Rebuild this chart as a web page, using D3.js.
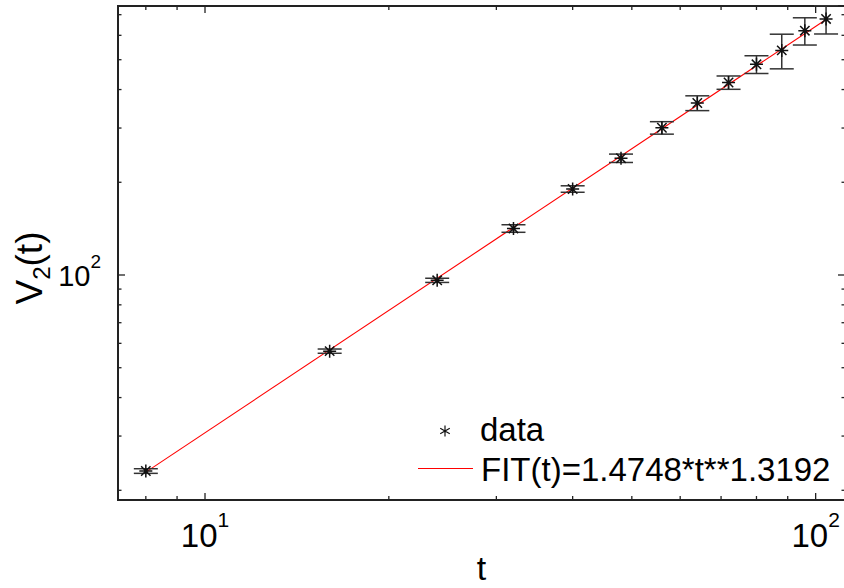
<!DOCTYPE html>
<html lang="en">
<head>
<meta charset="UTF-8">
<title>V2(t) fit</title>
<style>
  body { margin: 0; background: #fff; }
  svg text { font-family: "Liberation Sans", Arial, sans-serif; fill: #000; }
</style>
</head>
<body>
<div id="chart"></div>
<script src="https://cdn.jsdelivr.net/npm/d3@7/dist/d3.min.js"></script>
<script>
  // data
  const T = [8, 16, 24, 32, 40, 48, 56, 64, 72, 80, 88, 96, 104];
  const V2 = [23.1, 56.6, 96.1, 141.6, 190.2, 239.4, 300.6, 361.7, 421.7, 483, 536, 621, 678];
  const ERR = [0.4, 0.9, 1.5, 4.0, 4.6, 7.5, 14, 20, 21, 32, 69, 63, 72];

  // fit from the legend
  const FIT_A = 1.4748, FIT_B = 1.3192;

  const X_MAJOR = [10, 100], X_MAJOR_EXP = ["1", "2"];
  const Y_MAJOR = [100], Y_MAJOR_EXP = ["2"];
  const X_MINOR = [8, 9, 20, 30, 40, 50, 60, 70, 80, 90];
  const Y_MINOR = [20, 30, 40, 50, 60, 70, 80, 90, 200, 300, 400, 500, 600, 700];

  const W = 844, H = 588;
  const margin = {top: 6, right: -1, bottom: 88, left: 118};
  const width = W - margin.left - margin.right,
    height = H - margin.top - margin.bottom;

  const svg = d3.select("#chart").append("svg")
    .attr("width", W).attr("height", H);
  const g = svg.append("g")
    .attr("transform", "translate(" + margin.left + "," + margin.top + ")");

  const x = d3.scaleLog().domain([7.203, 111.7]).range([0, width]);
  const y = d3.scaleLog().domain([18.6, 747]).range([height, 0]);

  const axisColor = "#222";

  // ticks on all four sides, pointing inward
  function ticks(vals, len) {
    vals.forEach(function (v) {
      const px = x(v);
      g.append("line").attr("x1", px).attr("x2", px).attr("y1", height).attr("y2", height - len)
        .attr("stroke", axisColor).attr("stroke-width", 1.3);
      g.append("line").attr("x1", px).attr("x2", px).attr("y1", 0).attr("y2", len)
        .attr("stroke", axisColor).attr("stroke-width", 1.3);
    });
  }
  function yticks(vals, len) {
    vals.forEach(function (v) {
      const py = y(v);
      g.append("line").attr("x1", 0).attr("x2", len).attr("y1", py).attr("y2", py)
        .attr("stroke", axisColor).attr("stroke-width", 1.3);
      g.append("line").attr("x1", width).attr("x2", width - len).attr("y1", py).attr("y2", py)
        .attr("stroke", axisColor).attr("stroke-width", 1.3);
    });
  }
  ticks(X_MINOR, 4);
  ticks(X_MAJOR, 7);
  yticks(Y_MINOR, 3.5);
  yticks(Y_MAJOR, 7);

  // frame
  g.append("rect").attr("x", 0).attr("y", 0).attr("width", width).attr("height", height)
    .attr("fill", "none").attr("stroke", axisColor).attr("stroke-width", 2);

  // tick labels with superscripts
  X_MAJOR.forEach(function (v, i) {
    const t = g.append("text")
      .attr("x", x(v)).attr("y", height + 47)
      .attr("text-anchor", "middle").style("font-size", "33px");
    t.append("tspan").text("10");
    t.append("tspan").attr("dy", -20).style("font-size", "21px").text(X_MAJOR_EXP[i]);
  });
  Y_MAJOR.forEach(function (v, i) {
    const t = g.append("text")
      .attr("x", -17).attr("y", y(v) + 11)
      .attr("text-anchor", "end").style("font-size", "29px");
    t.append("tspan").text("10");
    t.append("tspan").attr("dy", -18).style("font-size", "19px").text(Y_MAJOR_EXP[i]);
  });

  // axis titles
  g.append("text")
    .attr("x", x(Math.sqrt(x.domain()[0] * x.domain()[1]))).attr("y", height + 80)
    .attr("text-anchor", "middle").style("font-size", "34px").text("t");

  const yl = svg.append("text")
    .attr("transform", "translate(42," + 268 + ") rotate(-90)")
    .attr("text-anchor", "middle").style("font-size", "37px");
  yl.append("tspan").text("V");
  yl.append("tspan").attr("dy", 8).style("font-size", "24px").text("2");
  yl.append("tspan").attr("dy", -8).text("(t)");

  // clip for marks
  svg.append("clipPath").attr("id", "clip").append("rect")
    .attr("x", 0).attr("y", -1).attr("width", width).attr("height", height + 1);
  const plot = g.append("g").attr("clip-path", "url(#clip)");

  // fit line (a power law is straight on log-log axes)
  const tEnds = d3.extent(T);
  plot.append("path")
    .datum(tEnds)
    .attr("d", d3.line().x(function (t) { return x(t); }).y(function (t) { return y(FIT_A * Math.pow(t, FIT_B)); }))
    .attr("stroke", "#ff0000").attr("stroke-width", 1.1).attr("fill", "none");

  // error bars
  const capW = 12;
  const eb = plot.selectAll(".eb").data(T).enter().append("g").attr("class", "eb")
    .attr("stroke", "#333").attr("stroke-width", 1.5);
  eb.append("line")
    .attr("x1", function (d) { return x(d); }).attr("x2", function (d) { return x(d); })
    .attr("y1", function (d, i) { return y(V2[i] - ERR[i]); })
    .attr("y2", function (d, i) { return y(V2[i] + ERR[i]); });
  eb.append("line")
    .attr("x1", function (d) { return x(d) - capW; }).attr("x2", function (d) { return x(d) + capW; })
    .attr("y1", function (d, i) { return y(V2[i] - ERR[i]); })
    .attr("y2", function (d, i) { return y(V2[i] - ERR[i]); });
  eb.append("line")
    .attr("x1", function (d) { return x(d) - capW; }).attr("x2", function (d) { return x(d) + capW; })
    .attr("y1", function (d, i) { return y(V2[i] + ERR[i]); })
    .attr("y2", function (d, i) { return y(V2[i] + ERR[i]); });

  // star markers
  const r = 6.5, rd = r * 0.72;
  const star = "M" + (-r) + ",0H" + r + "M0," + (-r) + "V" + r +
    "M" + (-rd) + "," + (-rd) + "L" + rd + "," + rd + "M" + (-rd) + "," + rd + "L" + rd + "," + (-rd);
  plot.selectAll(".pt").data(T).enter().append("path")
    .attr("transform", function (d, i) { return "translate(" + x(d) + "," + y(V2[i]) + ")"; })
    .attr("d", star).attr("stroke", "#111").attr("stroke-width", 1.5).attr("fill", "none");

  // legend
  const lg = svg.append("g");
  const r2 = 5.5;
  const ast = "M0," + (-r2) + "V" + r2 +
    "M" + (-r2 * 0.87) + "," + (-r2 * 0.5) + "L" + (r2 * 0.87) + "," + (r2 * 0.5) +
    "M" + (-r2 * 0.87) + "," + (r2 * 0.5) + "L" + (r2 * 0.87) + "," + (-r2 * 0.5);
  lg.append("path").attr("transform", "translate(445,431)").attr("d", ast)
    .attr("stroke", "#111").attr("stroke-width", 1.2).attr("fill", "none");
  lg.append("text").attr("x", 480).attr("y", 441).style("font-size", "33px").text("data");
  lg.append("line").attr("x1", 418).attr("x2", 473).attr("y1", 468.5).attr("y2", 468.5)
    .attr("stroke", "#ff0000").attr("stroke-width", 1.1);
  lg.append("text").attr("x", 481).attr("y", 481).style("font-size", "33px").text("FIT(t)=1.4748*t**1.3192");
</script>
</body>
</html>
